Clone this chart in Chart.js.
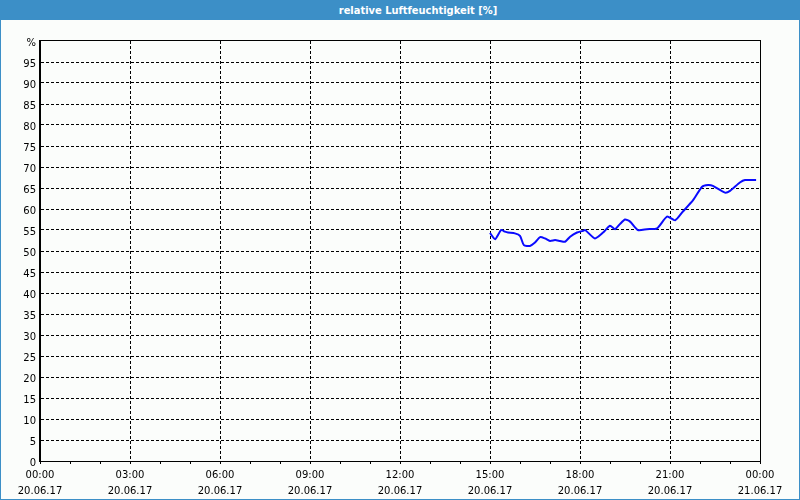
<!DOCTYPE html>
<html>
<head>
<meta charset="utf-8">
<script src="https://cdn.jsdelivr.net/npm/chart.js@4/dist/chart.umd.min.js"></script>
<style>
  html, body { margin: 0; padding: 0; background: #fbfdfb; }
  #wrap { position: relative; width: 800px; height: 500px; overflow: hidden; background: #fbfdfb; }
  #bar { position: absolute; left: 0; top: 0; width: 800px; height: 20px; background: #3c8fc7;
         color: #ffffff; font: bold 11px "DejaVu Sans Condensed", "DejaVu Sans", sans-serif;
         line-height: 21px; text-align: center; box-sizing: border-box; padding-left: 36px; }
  #frame { position: absolute; left: 0; top: 20px; width: 800px; height: 480px; box-sizing: border-box;
           border-left: 1px solid #3c8fc7; border-right: 1px solid #3c8fc7; border-bottom: 1px solid #3c8fc7; }
  #c { position: absolute; left: 1px; top: 20px; }
</style>
</head>
<body>
<div id="wrap">
  <div id="bar">relative Luftfeuchtigkeit [%]</div>
  <div id="frame"></div>
  <canvas id="c" width="798" height="479"></canvas>
</div>
<script>
// Time of day in hours (20.06.17)
const hours = [15.00, 15.17, 15.37, 15.50, 15.60, 15.83, 16.00, 16.13, 16.33, 16.50,
               16.67, 16.83, 17.00, 17.17, 17.33, 17.50, 17.67, 17.90, 18.10, 18.17,
               18.50, 18.77, 19.00, 19.17, 19.33, 19.50, 19.67, 19.93, 20.23, 20.57,
               20.90, 21.17, 21.43, 21.77, 22.07, 22.27, 22.43, 22.83, 23.00, 23.33,
               23.50, 23.87];
// relative humidity [%]
const humidity = [54.3, 52.8, 55.0, 54.6, 54.4, 54.2, 53.6, 51.4, 51.2, 52.0,
                  53.3, 53.0, 52.4, 52.6, 52.4, 52.2, 53.4, 54.4, 54.8, 55.0,
                  53.0, 54.4, 56.0, 55.2, 56.4, 57.5, 57.0, 55.0, 55.2, 55.4,
                  58.2, 57.3, 59.4, 62.1, 65.3, 65.7, 65.5, 63.9, 64.3, 66.3,
                  66.9, 66.9];
// x tick labels every 3 hours
const xTickTimes = ["00:00", "03:00", "06:00", "09:00", "12:00", "15:00", "18:00", "21:00", "00:00"];
const xTickDates = ["20.06.17", "20.06.17", "20.06.17", "20.06.17", "20.06.17", "20.06.17", "20.06.17", "20.06.17", "21.06.17"];
const yUnit = "%";

const points = hours.map((h, i) => ({ x: h, y: humidity[i] }));

const framePlugin = {
  id: 'frame',
  afterDraw(chart) {
    const a = chart.chartArea;
    const ctx = chart.ctx;
    ctx.save();
    ctx.strokeStyle = '#000';
    ctx.lineWidth = 1;
    ctx.setLineDash([]);
    ctx.strokeRect(Math.round(a.left) - 0.5, Math.round(a.top) - 0.5,
                   Math.round(a.right - a.left) + 1, Math.round(a.bottom - a.top) + 1);
    ctx.restore();
  }
};

new Chart(document.getElementById('c'), {
  type: 'line',
  data: {
    datasets: [{
      data: points,
      borderColor: '#0a0aff',
      borderWidth: 2,
      pointRadius: 0,
      fill: false,
      tension: 0.2
    }]
  },
  options: {
    responsive: false,
    animation: false,
    devicePixelRatio: 1,
    layout: { padding: { top: 21, right: 39, left: 0, bottom: 0 } },
    plugins: { legend: { display: false }, title: { display: false }, tooltip: { enabled: false } },
    scales: {
      x: {
        type: 'linear',
        min: 0, max: 24,
        afterFit(s) { s.height = 38; },
        ticks: {
          stepSize: 1,
          autoSkip: false,
          maxRotation: 0,
          padding: 3,
          color: '#000',
          font: { family: '"DejaVu Sans", sans-serif', size: 10, lineHeight: 1.6 },
          callback(v) {
            if (v % 3 !== 0) return '';
            const i = v / 3;
            return [xTickTimes[i], xTickDates[i]];
          }
        },
        grid: {
          drawTicks: true,
          tickLength: 3,
          tickColor: '#000',
          lineWidth: 1,
          color(ctx) {
            const v = ctx.tick && ctx.tick.value;
            return (v % 3 === 0 && v !== 0 && v !== 24) ? '#000' : 'rgba(0,0,0,0)';
          }
        },
        border: { display: true, color: '#000', width: 1, dash: [3, 2] }
      },
      y: {
        min: 0, max: 100,
        afterFit(s) { s.width = 39; },
        ticks: {
          stepSize: 5,
          padding: 4,
          labelOffset: 2,
          color: '#000',
          font: { family: '"DejaVu Sans", sans-serif', size: 10 },
          callback(v) { return v === 100 ? yUnit : String(v); }
        },
        grid: {
          drawTicks: false,
          lineWidth: 1,
          color(ctx) {
            const v = ctx.tick && ctx.tick.value;
            return (v !== 0 && v !== 100) ? '#000' : 'rgba(0,0,0,0)';
          }
        },
        border: { display: true, color: '#000', width: 1, dash: [3, 2] }
      }
    }
  },
  plugins: [framePlugin]
});
</script>
</body>
</html>
